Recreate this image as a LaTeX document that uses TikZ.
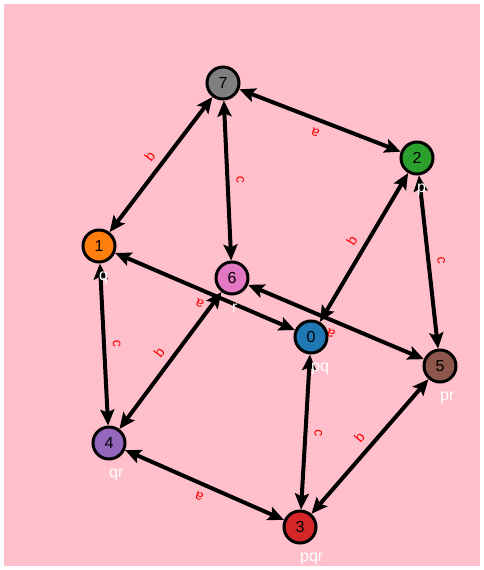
\documentclass[tikz,border=0pt]{standalone}
\usepackage{fontspec}
\setmainfont{Liberation Sans}
\usepackage{xcolor}
\usetikzlibrary{arrows.meta, backgrounds}
\definecolor{bgpink}{HTML}{FFC0CB}
\definecolor{cube0}{HTML}{1F77B4}
\definecolor{cube1}{HTML}{FF7F0E}
\definecolor{cube2}{HTML}{2CA02C}
\definecolor{cube3}{HTML}{D62728}
\definecolor{cube4}{HTML}{9467BD}
\definecolor{cube5}{HTML}{8C564B}
\definecolor{cube6}{HTML}{E377C2}
\definecolor{cube7}{HTML}{7F7F7F}
\tikzstyle{arrow} = [line width=4pt, {Stealth[length=16pt,width=14pt,inset=3pt]}-{Stealth[length=16pt,width=14pt,inset=3pt]}]

\begin{document}
\begin{tikzpicture}[x=1pt, y=-1pt,
    vertex/.style={draw, circle, line width=3pt, minimum size=32pt, inner sep=0pt, font=\fontsize{16}{16}\selectfont},
    sub/.style={text=white, font=\fontsize{16}{16}\selectfont, anchor=north west, inner sep=0pt, label distance=8pt},
    gen/.style={midway, sloped, above=6pt, allow upside down, text=red, inner sep=1pt, font=\fontsize{14}{14}\selectfont}
]
\useasboundingbox (0,0) rectangle (483,570);

% vertices of the cube
\node[vertex, fill=cube7] (n7) at (223,83) {7};
\node[vertex, fill=cube2, label={[sub]below:p}] (n2) at (417,158) {2};
\node[vertex, fill=cube1, label={[sub]below:q}] (n1) at (99,246) {1};
\node[vertex, fill=cube6, label={[sub]below:r}] (n6) at (232,278) {6};
\node[vertex, fill=cube0, label={[sub]below:pq}] (n0) at (311,337) {0};
\node[vertex, fill=cube5, label={[sub]below:pr}] (n5) at (440,366) {5};
\node[vertex, fill=cube4, label={[sub]below:qr}] (n4) at (109,443) {4};
\node[vertex, fill=cube3, label={[sub]below:pqr}] (n3) at (300,527) {3};

\begin{pgfonlayer}{background}
\fill[white] (0,0) rectangle (483,570);
\fill[bgpink] (4,4) rectangle (480,566);

% generators a, b, c
\draw[arrow] (n2) -- node[gen] {a} (n7);
\draw[arrow] (n0) -- node[gen] {a} (n1);
\draw[arrow] (n5) -- node[gen] {a} (n6);
\draw[arrow] (n3) -- node[gen] {a} (n4);
\draw[arrow] (n1) -- node[gen] {b} (n7);
\draw[arrow] (n0) -- node[gen] {b} (n2);
\draw[arrow] (n4) -- node[gen] {b} (n6);
\draw[arrow] (n3) -- node[gen] {b} (n5);
\draw[arrow] (n7) -- node[gen] {c} (n6);
\draw[arrow] (n2) -- node[gen] {c} (n5);
\draw[arrow] (n1) -- node[gen] {c} (n4);
\draw[arrow] (n0) -- node[gen] {c} (n3);
\end{pgfonlayer}
\end{tikzpicture}
\end{document}
